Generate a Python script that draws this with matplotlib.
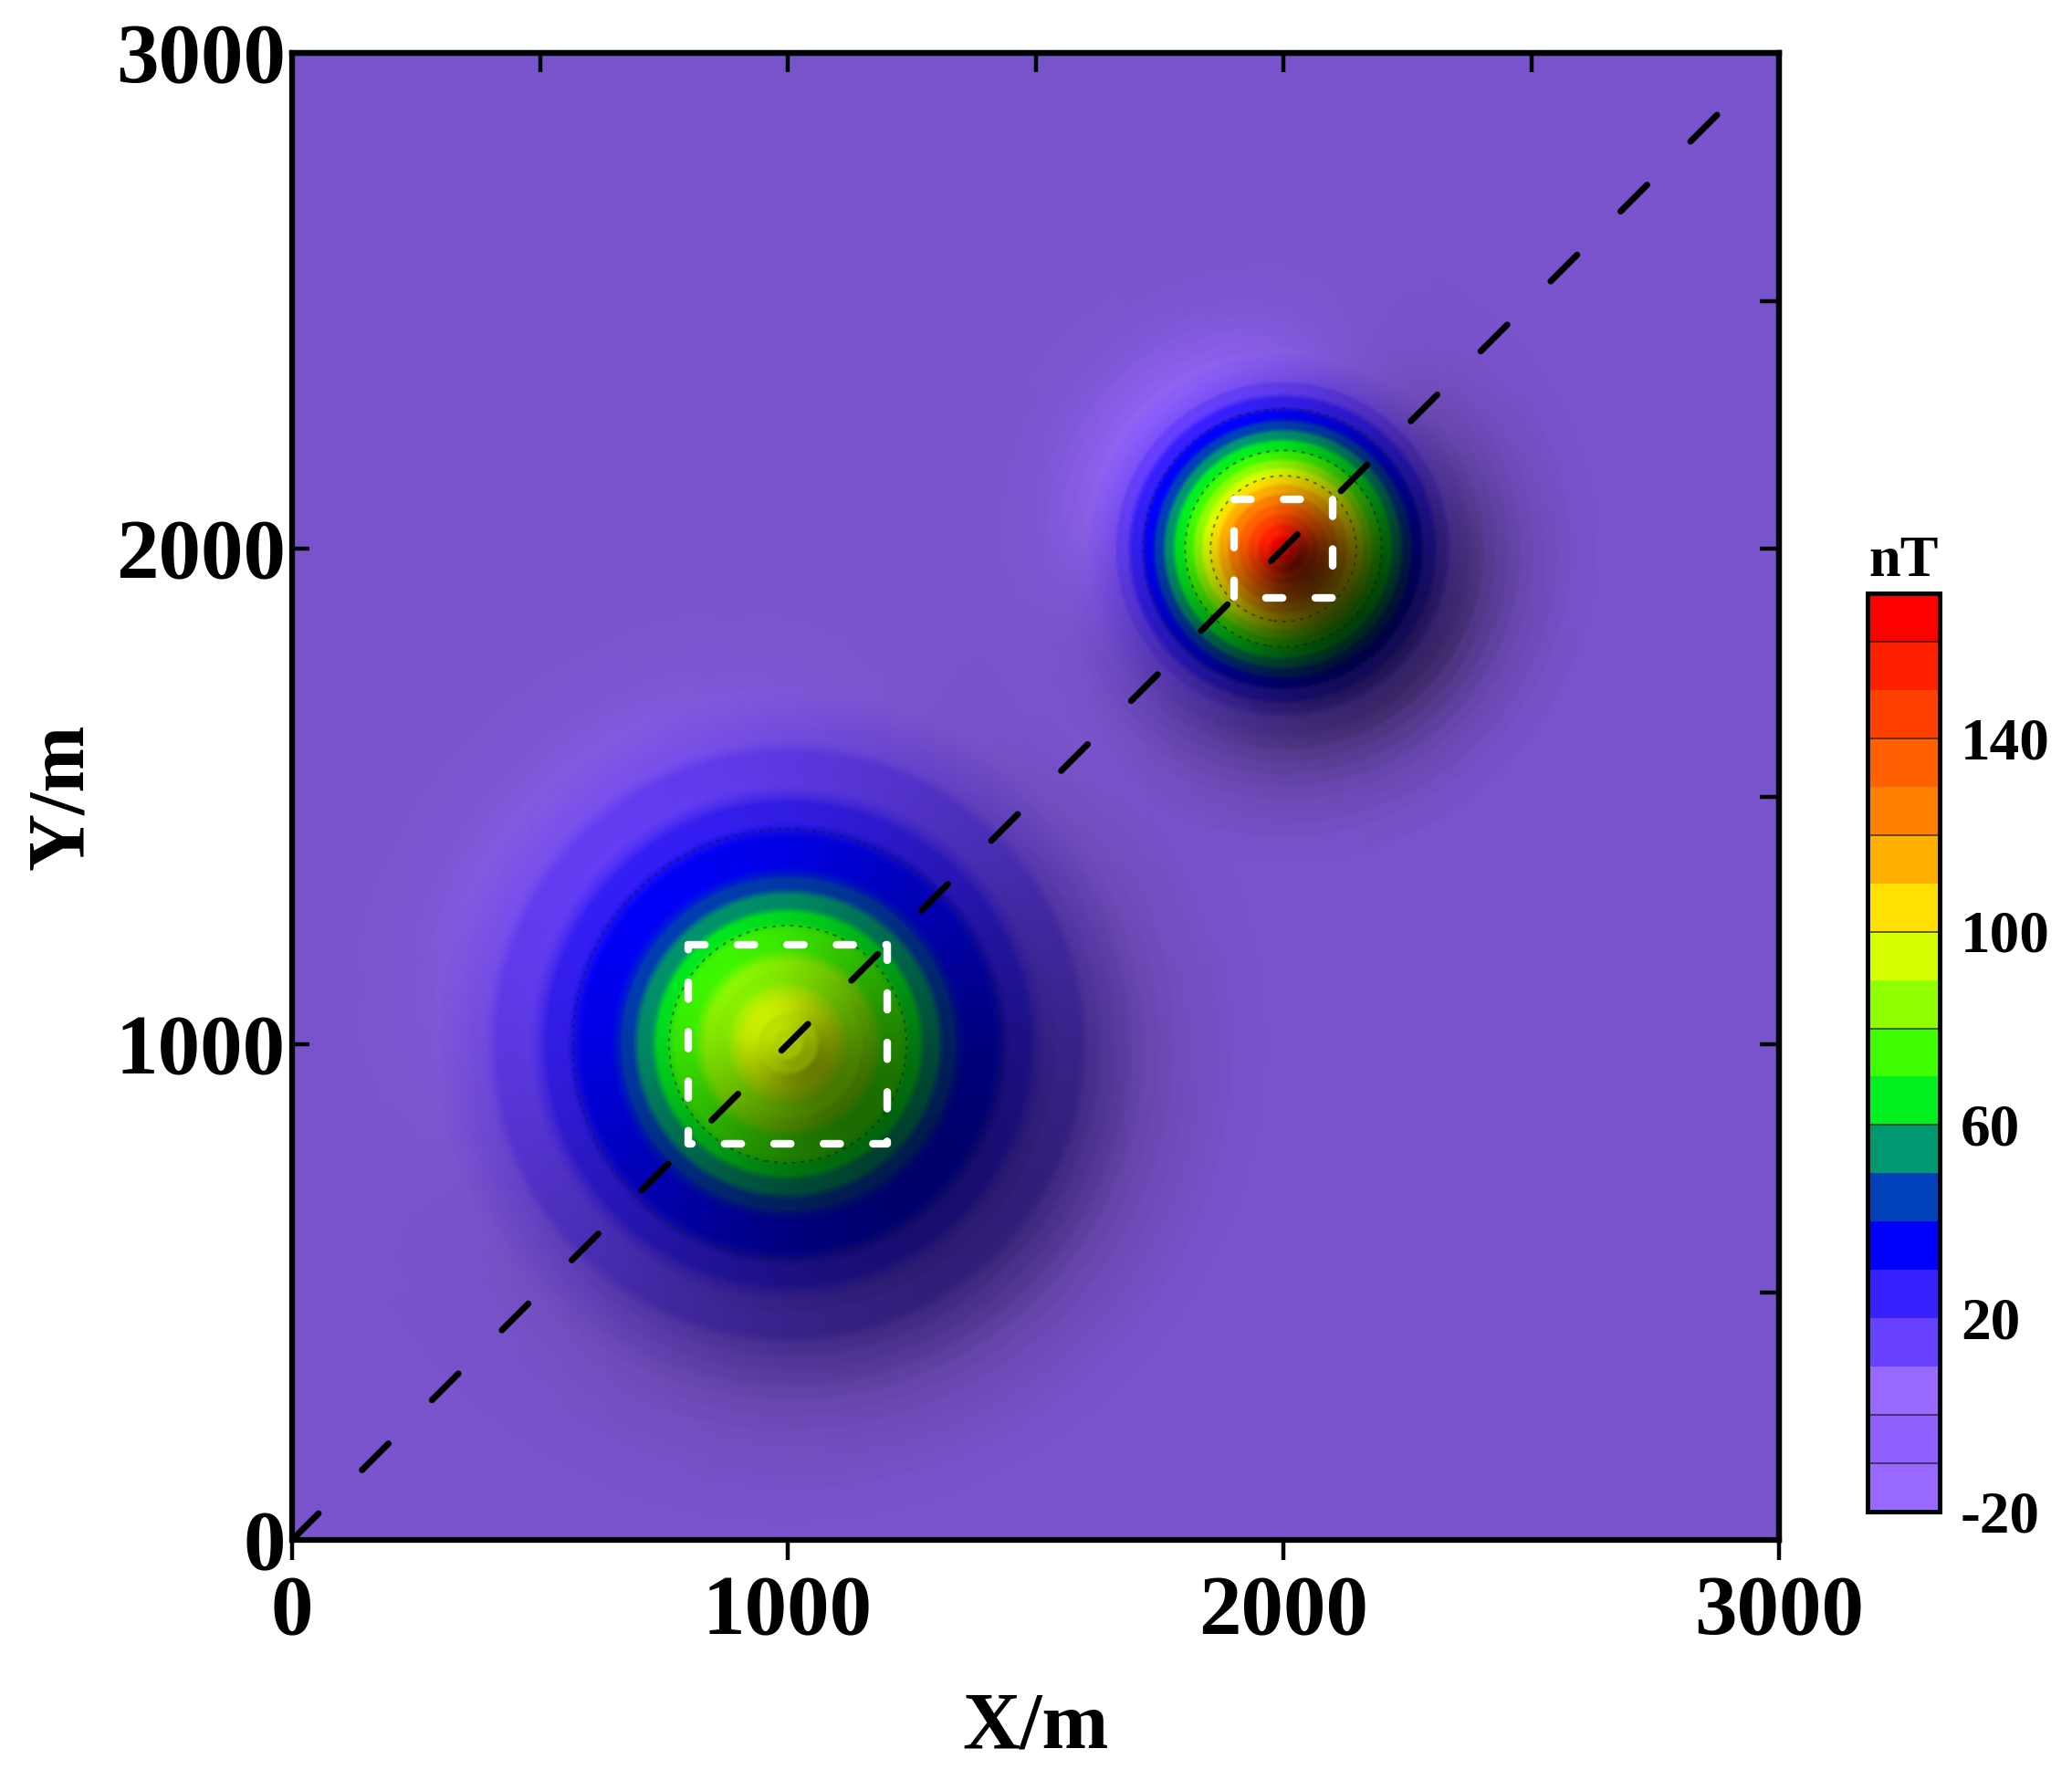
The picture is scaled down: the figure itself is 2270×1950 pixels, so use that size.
"""Total field anomaly map over two buried sources, hill-shaded like the original."""

import matplotlib
matplotlib.use("Agg")
import matplotlib.pyplot as plt
import numpy as np
from matplotlib.colors import BoundaryNorm, LinearSegmentedColormap, ListedColormap, Normalize, to_rgb

plt.rcParams["font.family"] = ["Liberation Serif", "DejaVu Serif"]
plt.rcParams["font.weight"] = "bold"

# colour bands, bottom to top, 10 nT each
levels = list(range(-20, 180, 10))
band_colors = ["#9868ff", "#9060ff", "#9868ff", "#6840ff", "#3820ff", "#0000ff", "#0040b8",
               "#009870", "#00f020", "#40ff00", "#90ff00", "#d8ff00", "#ffe000", "#ffb000",
               "#ff8000", "#ff6000", "#ff4000", "#ff2000", "#ff0000"]
bar_ticks = [140, 100, 60, 20, -20]
bar_lines = [160, 140, 120, 100, 80, 60, 0, -10]
contour_levels = [30, 70, 100]

# radial profiles (distance in m, value in nT)
big_center = (1000, 1000)
big_r = [0, 60, 110, 180, 240, 270, 308, 341, 434, 500, 610, 720, 900, 1200]
big_v = [91, 89, 85, 75, 65, 55, 45, 35, 25, 15, 5, 3, 1.5, 0]
small_center = (2000, 2000)
small_r = [0, 25, 50, 70, 90, 110, 130, 147, 163, 180, 198, 220, 240, 260, 282, 310, 340, 400, 500, 700]
small_v = [163, 155, 145, 135, 125, 115, 105, 95, 85, 75, 65, 55, 45, 35, 25, 15, 5, 3, 1.5, 0]
background = 5

# the relief light falls on is wider than the colour bands, so it has its own profiles
big_relief_r = [0, 30, 60, 100, 150, 300, 450, 540, 600, 630, 660, 690, 720, 750, 780, 810, 840, 870, 900, 960]
big_relief_h = [272, 270, 264, 250, 232, 169, 106, 70, 48, 38, 29.5, 22, 16, 11.5, 8, 5.5, 3.5, 2, 1, 0]
small_relief_r = [0, 15, 30, 60, 150, 280, 330, 380, 405, 430, 455, 480, 505, 530, 555, 580, 630]
small_relief_h = [239, 237, 232, 216, 165, 88, 62, 40, 30, 22, 15.5, 10.5, 7, 4.5, 2.5, 1.2, 0]

# dashed outlines of the two source bodies
big_box_x = [800, 1200, 1200, 800, 800]
big_box_y = [1200, 1200, 800, 800, 1200]
small_box_x = [1900, 2100, 2100, 1900, 1900]
small_box_y = [2100, 2100, 1900, 1900, 2100]
profile_x = [0, 2900]
profile_y = [0, 2900]

x = np.linspace(0, 3000, 601)
y = np.linspace(0, 3000, 601)
xx, yy = np.meshgrid(x, y)
r1 = np.hypot(xx - big_center[0], yy - big_center[1])
r2 = np.hypot(xx - small_center[0], yy - small_center[1])
field = background + np.interp(r1, big_r, big_v) + np.interp(r2, small_r, small_v)
relief = np.interp(r1, big_relief_r, big_relief_h) + np.interp(r2, small_relief_r, small_relief_h)

# bands with a short soft step between them, the map is not cut as hard as the legend
n = len(band_colors)
stops = [(0.0, to_rgb(band_colors[0]))]
for i, c in enumerate(band_colors):
    stops.append(((i + 0.2) / n, to_rgb(c)))
    stops.append(((i + 0.8) / n, to_rgb(c)))
stops.append((1.0, to_rgb(band_colors[-1])))
soft_cmap = LinearSegmentedColormap.from_list("soft_bands", stops, N=1024)
rgb = soft_cmap(Normalize(levels[0], levels[-1])(field))[:, :, :3]

# light from the upper left: flat ground 0.8, slopes lose a bit whichever way they face
dz_dy, dz_dx = np.gradient(relief, 5)
toward_light = (dz_dx - dz_dy) * np.sqrt(0.5)
shade = 0.8 + 0.65 * toward_light - 0.25 * np.hypot(dz_dx, dz_dy)
shaded = np.clip(rgb * np.clip(shade, 0, 1)[:, :, None], 0, 1)

fig = plt.figure(figsize=(22.70, 19.50), dpi=100)
ax = fig.add_axes([320 / 2270, 1 - 1687 / 1950, 1629 / 2270, 1629 / 1950])
ax.imshow(shaded, origin="lower", extent=[0, 3000, 0, 3000], interpolation="bilinear", aspect="auto")
ax.contour(xx, yy, field, levels=contour_levels, colors="#102010", linewidths=1.4,
           linestyles=[(0, (2, 3))], alpha=0.55)
ax.plot(big_box_x, big_box_y, color="white", lw=6, dashes=(2.2, 4.3), dash_capstyle="round")
ax.plot(small_box_x, small_box_y, color="white", lw=6, dashes=(2.2, 4.3), dash_capstyle="round")
ax.plot(profile_x, profile_y, color="black", lw=5, dashes=(5.9, 9.7), dash_capstyle="round")

ax.set_xlim(0, 3000)
ax.set_ylim(0, 3000)
for side in ax.spines.values():
    side.set_linewidth(4.5)
ax.set_xticks([0, 1000, 2000, 3000])
ax.set_yticks([0, 1000, 2000, 3000])
ax.tick_params(axis="x", direction="out", length=16, width=3.2, top=False, labelsize=67, pad=12)
ax.tick_params(axis="y", direction="in", length=14, width=3.2, right=False, labelsize=67, pad=5)
ax.set_xlabel("X/m", fontsize=63, fontweight="bold", labelpad=30)
ax.set_ylabel("Y/m", fontsize=63, fontweight="bold", labelpad=13)

# top and right edge carry their own inward ticks every 500 m
top = ax.secondary_xaxis("top")
top.set_xticks(np.arange(500, 3000, 500))
top.tick_params(direction="in", length=15, width=3.2, labeltop=False)
top.spines["top"].set_linewidth(4.5)
right = ax.secondary_yaxis("right")
right.set_yticks(np.arange(500, 3000, 500))
right.tick_params(direction="in", length=15, width=3.2, labelright=False)
right.spines["right"].set_linewidth(4.5)

# colour bar, no ticks, only labels at the side
cmap = ListedColormap(band_colors)
cax = fig.add_axes([2046 / 2270, 1 - 1656 / 1950, 79 / 2270, 1006 / 1950])
cax.pcolormesh([0, 1], levels, np.arange(n)[:, None], cmap=cmap, norm=BoundaryNorm(np.arange(n + 1), cmap.N))
cax.hlines(bar_lines, 0, 1, color="#202020", lw=1.2, alpha=0.8)
cax.set_xticks([])
cax.set_yticks([])
for side in cax.spines.values():
    side.set_linewidth(3.6)
for val in bar_ticks:
    # the labels sit a little under their level in the original
    cax.annotate(str(val), (1, val), xytext=(2148 / 2270, val - 1.2), textcoords=("figure fraction", "data"),
                 fontsize=47, va="center", ha="left", annotation_clip=False)
cax.text(0.5, 1.005, "nT", transform=cax.transAxes, fontsize=45, ha="center", va="bottom")

fig.savefig("out.png", dpi=100)
